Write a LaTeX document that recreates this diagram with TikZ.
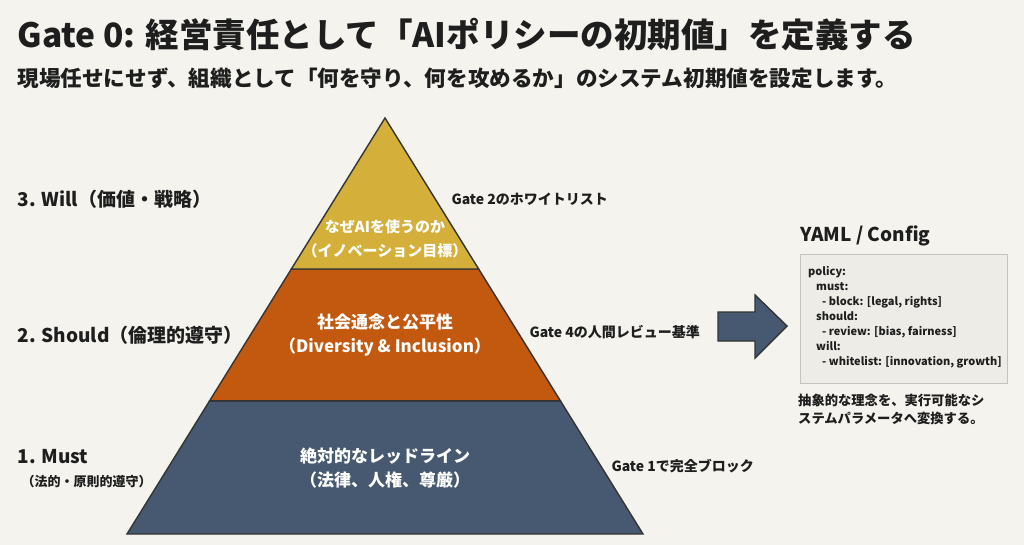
\documentclass[tikz,border=0pt]{standalone}
\usepackage{fontspec}
\setmainfont{Noto Sans CJK JP}
\usepackage{xcolor}
\usepackage{tikz}
\usetikzlibrary{calc}

\definecolor{paper}{HTML}{F4F3EE}
\definecolor{willgold}{HTML}{D4AF3A}
\definecolor{shouldorange}{HTML}{C3580F}
\definecolor{mustblue}{HTML}{465970}
\definecolor{edgegray}{HTML}{343434}
\definecolor{codebg}{HTML}{EDECE7}
\definecolor{codeframe}{HTML}{C4C3BE}
\definecolor{ink}{HTML}{1E1E1E}

\tikzset{
  band/.style={draw=edgegray, line width=1.4pt, line join=miter},
  inband/.style={text=white, align=center, font=\bfseries\fontsize{#1}{24}\selectfont},
  tierlabel/.style={anchor=west, text=ink, font=\bfseries\fontsize{19}{22}\selectfont},
  gatelabel/.style={anchor=west, text=ink, font=\bfseries\fontsize{14}{16}\selectfont},
}

\begin{document}
\begin{tikzpicture}[x=1pt, y=-1pt]
    \useasboundingbox[fill=paper] (0,0) rectangle (1024,545);

    % Define nodes
    \node[anchor=west, text=ink, font=\bfseries\fontsize{33.5}{38}\selectfont] (title) at (14,35)
        {Gate 0: 経営責任として「AIポリシーの初期値」を定義する};
    \node[anchor=west, text=ink, font=\bfseries\fontsize{21.6}{25}\selectfont] (subtitle) at (14,78)
        {現場任せにせず、組織として「何を守り、何を攻めるか」のシステム初期値を設定します。};

    % Pyramid corners
    \coordinate (top) at (385,118);
    \coordinate (bl) at (127,534);
    \coordinate (br) at (643,534);
    \coordinate (l1) at ($(top)!0.363!(bl)$);
    \coordinate (r1) at ($(top)!0.363!(br)$);
    \coordinate (l2) at ($(top)!0.680!(bl)$);
    \coordinate (r2) at ($(top)!0.680!(br)$);

    % Draw bands
    \filldraw[band, fill=mustblue] (l2) -- (r2) -- (br) -- (bl) -- cycle;
    \filldraw[band, fill=shouldorange] (l1) -- (r1) -- (r2) -- (l2) -- cycle;
    \filldraw[band, fill=willgold] (top) -- (r1) -- (l1) -- cycle;

    \node[inband=15] (will) at (385,239) {なぜAIを使うのか\\（イノベーション目標）};
    \node[inband=17] (should) at (385,335) {社会通念と公平性\\（Diversity \& Inclusion）};
    \node[inband=17] (must) at (385,468) {絶対的なレッドライン\\（法律、人権、尊厳）};

    % Tier labels
    \node[tierlabel] (willtag) at (14,199) {3. Will（価値・戦略）};
    \node[tierlabel] (shouldtag) at (14,335) {2. Should（倫理的遵守）};
    \node[tierlabel] (musttag) at (14,457) {1. Must};
    \node[anchor=west, text=ink, font=\bfseries\fontsize{13}{15}\selectfont] (mustsub) at (18,482) {（法的・原則的遵守）};

    % Gate labels
    \node[gatelabel] (gate2) at (448,199) {Gate 2のホワイトリスト};
    \node[gatelabel] (gate4) at (526,332) {Gate 4の人間レビュー基準};
    \node[gatelabel] (gate1) at (608,466) {Gate 1で完全ブロック};

    % Block arrow
    \filldraw[band, fill=mustblue] (718,312) -- (755,312) -- (755,295) -- (787,326)
        -- (755,358) -- (755,341) -- (718,341) -- cycle;

    % Config box
    \node[anchor=south west, inner sep=0pt, text=ink, font=\bfseries\fontsize{19}{22}\selectfont] (cfgtitle) at (800,246) {YAML / Config};
    \filldraw[fill=codebg, draw=codeframe, line width=0.8pt] (800,254) rectangle (1007,383);
    \node[anchor=north west, inner sep=0pt, text=ink, align=left, font=\bfseries\fontsize{11}{15}\selectfont] (cfg) at (808,266)
        {policy:\\
         \hspace*{8pt}must:\\
         \hspace*{14pt}- block: [legal, rights]\\
         \hspace*{8pt}should:\\
         \hspace*{14pt}- review: [bias, fairness]\\
         \hspace*{8pt}will:\\
         \hspace*{14pt}- whitelist: [innovation, growth]};
    \node[anchor=north west, inner sep=0pt, text=ink, align=left, font=\bfseries\fontsize{13.3}{18}\selectfont] (cfgnote) at (798,394)
        {抽象的な理念を、実行可能なシ\\ステムパラメータへ変換する。};
\end{tikzpicture}
\end{document}
